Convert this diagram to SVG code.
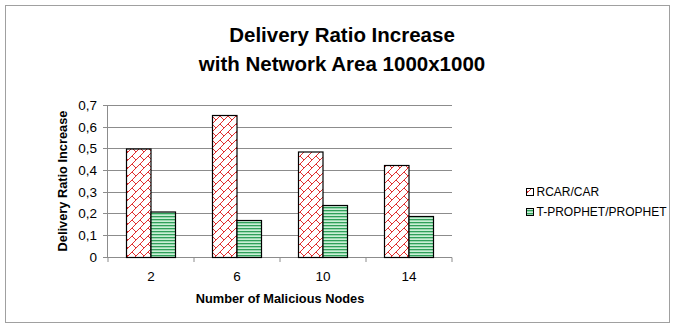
<svg xmlns="http://www.w3.org/2000/svg" width="675" height="329" viewBox="0 0 675 329">
<defs>
<pattern id="brick" patternUnits="userSpaceOnUse" width="8" height="8">
<rect width="8" height="8" fill="#ffffff"/>
<path d="M0,8 L8,0 M-1,1 L1,-1 M7,9 L9,7 M4,4 L8,8" stroke="#e03030" stroke-width="1" fill="none"/>
</pattern>
<pattern id="stripes" patternUnits="userSpaceOnUse" width="6" height="3">
<rect width="6" height="3" fill="#c9efd6"/>
<rect y="0" width="6" height="1.3" fill="#2fa05a"/>
</pattern>
<style>
.grid{stroke:#8c8c8c;stroke-width:1;fill:none}
.bar{stroke:#000;stroke-width:1.2}
.red{fill:url(#brick)}
.green{fill:url(#stripes)}
text{font-family:"Liberation Sans",Arial,sans-serif;fill:#000}
.tick{font-size:13.5px}
.title{font-size:20.5px;font-weight:bold;text-anchor:middle}
.axt{font-size:12.8px;font-weight:bold;text-anchor:middle}
.leg{font-size:12px}
</style>
</defs>
<rect x="5.5" y="5.5" width="664" height="317" fill="#fff" stroke="#a0a0a0" stroke-width="1"/>
<g id="title">
<text class="title" x="342" y="42">Delivery Ratio Increase</text>
<text class="title" x="342" y="71">with Network Area 1000x1000</text>
</g>
<g id="axes">
<path class="grid" d="M103,105.5H452 M103,127.5H452 M103,148.5H452 M103,170.5H452 M103,192.5H452 M103,213.5H452 M103,235.5H452 M103,257.5H452"/>
<path class="grid" d="M107.5,105V257.5 M108,257.5V262 M194,257.5V262 M280,257.5V262 M366,257.5V262 M452,257.5V262"/>
<g class="tick" text-anchor="end">
<text x="97" y="110">0,7</text>
<text x="97" y="132">0,6</text>
<text x="97" y="153">0,5</text>
<text x="97" y="175">0,4</text>
<text x="97" y="197">0,3</text>
<text x="97" y="218">0,2</text>
<text x="97" y="240">0,1</text>
<text x="97" y="262">0</text>
</g>
<g class="tick" text-anchor="middle">
<text x="151" y="281">2</text>
<text x="237" y="281">6</text>
<text x="323" y="281">10</text>
<text x="409" y="281">14</text>
</g>
<text class="axt" x="280" y="303">Number of Malicious Nodes</text>
<text class="axt" transform="translate(67,181) rotate(-90)">Delivery Ratio Increase</text>
</g>
<g id="series-rcar">
<rect class="bar red" x="126.5" y="149" width="24.5" height="108.5"/>
<rect class="bar red" x="212.5" y="115.5" width="24.5" height="142"/>
<rect class="bar red" x="298.5" y="152" width="24.5" height="105.5"/>
<rect class="bar red" x="384.5" y="165.5" width="24.5" height="92"/>
</g>
<g id="series-tprophet">
<rect class="bar green" x="151" y="212" width="24.5" height="45.5"/>
<rect class="bar green" x="237" y="220.5" width="24.5" height="37"/>
<rect class="bar green" x="323" y="205.5" width="24.5" height="52"/>
<rect class="bar green" x="409" y="216.5" width="24.5" height="41"/>
</g>
<g id="legend">
<rect x="526.5" y="188.5" width="7" height="7" fill="url(#brick)" stroke="#000" stroke-width="1"/>
<text class="leg" x="536.5" y="196">RCAR/CAR</text>
<rect x="526.5" y="208.5" width="7" height="7" fill="url(#stripes)" stroke="#000" stroke-width="1"/>
<text class="leg" x="536.5" y="216">T-PROPHET/PROPHET</text>
</g>
</svg>
